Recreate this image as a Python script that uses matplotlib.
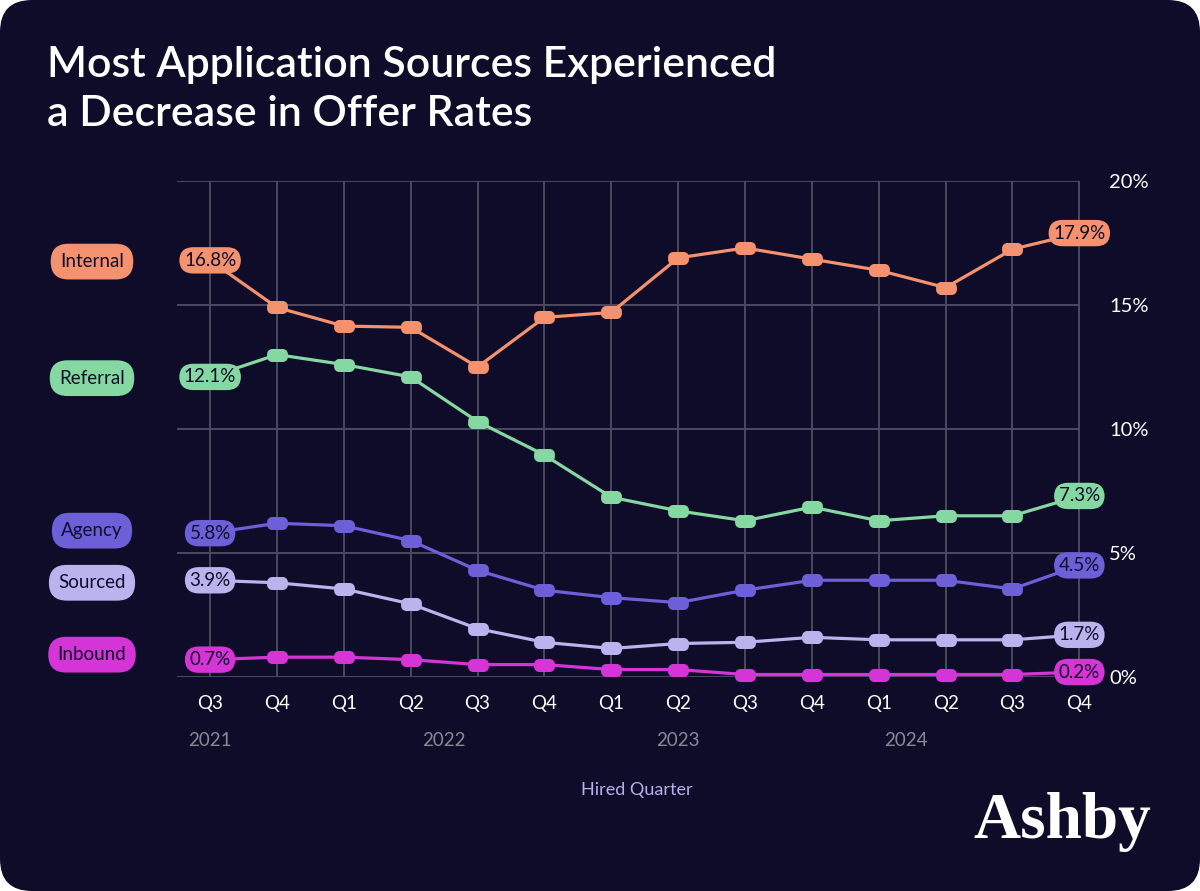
import numpy as np
import matplotlib
matplotlib.use("Agg")
import matplotlib.pyplot as plt
from matplotlib.path import Path
from matplotlib.patches import FancyBboxPatch
import matplotlib.transforms as mtransforms

# data (offer rate, %)
quarters = ["Q3", "Q4", "Q1", "Q2", "Q3", "Q4", "Q1", "Q2", "Q3", "Q4", "Q1", "Q2", "Q3", "Q4"]
years = ["2021", "2022", "2023", "2024"]
year_pos = [0, 3.5, 7, 10.4]

internal = [16.8, 14.9, 14.15, 14.1, 12.5, 14.5, 14.7, 16.9, 17.3, 16.85, 16.4, 15.7, 17.25, 17.9]
referral = [12.1, 13.0, 12.6, 12.1, 10.3, 8.95, 7.25, 6.7, 6.3, 6.85, 6.3, 6.5, 6.5, 7.3]
agency = [5.8, 6.2, 6.1, 5.5, 4.3, 3.5, 3.2, 3.0, 3.5, 3.9, 3.9, 3.9, 3.55, 4.5]
sourced = [3.9, 3.8, 3.55, 2.95, 1.95, 1.4, 1.15, 1.35, 1.4, 1.6, 1.5, 1.5, 1.5, 1.7]
inbound = [0.7, 0.8, 0.8, 0.7, 0.5, 0.5, 0.3, 0.3, 0.1, 0.1, 0.1, 0.1, 0.1, 0.2]

series_names = ["Internal", "Referral", "Agency", "Sourced", "Inbound"]
series_vals = [internal, referral, agency, sourced, inbound]
colors = ["#f4916e", "#86d8a3", "#6c5fd8", "#bab4ee", "#d535d6"]
legend_y = [16.75, 12.05, 5.9, 3.8, 0.9]   # where the name pills sit on the left

bg = "#0e0c28"
grid_c = "#4a4960"
plt.rcParams['font.family'] = ['Lato', 'DejaVu Sans']


def rounded_rect(w, h, r, n=8):
    # closed rounded-rectangle path for the pill markers
    pts = []
    corners = [(w/2 - r, h/2 - r, 0), (-w/2 + r, h/2 - r, 90),
               (-w/2 + r, -h/2 + r, 180), (w/2 - r, -h/2 + r, 270)]
    for cx, cy, a0 in corners:
        for t in np.linspace(np.radians(a0), np.radians(a0 + 90), n):
            pts.append((cx + r*np.cos(t), cy + r*np.sin(t)))
    pts.append(pts[0])
    return Path(pts, closed=True)


pill = rounded_rect(1.6, 1.0, 0.4)

fig = plt.figure(figsize=(12, 8.91), dpi=100, facecolor="white")
card = FancyBboxPatch((0, 0), 12, 8.91, boxstyle="round,pad=0,rounding_size=0.32",
                      transform=fig.dpi_scale_trans, facecolor=bg, edgecolor="none", zorder=-10)
fig.patches.append(card)

ax = fig.add_axes([177/1200, 1 - 677/891, 903/1200, 496/891])
ax.set_facecolor("none")
x = np.arange(len(quarters))
ax.set_xlim(-0.495, 13.01)
ax.set_ylim(0, 20)

for s in ax.spines.values():
    s.set_visible(False)
for yv in [0, 5, 10, 15, 20]:
    ax.axhline(yv, color=grid_c, lw=1.4, zorder=0)
for xv in x:
    ax.axvline(xv, color=grid_c, lw=1.4, zorder=0)

ax.yaxis.tick_right()
ax.set_yticks([0, 5, 10, 15, 20])
ax.set_yticklabels(["0%", "5%", "10%", "15%", "20%"])
ax.tick_params(axis="y", length=0, pad=21, labelsize=14.5, labelcolor="white")
ax.set_xticks(x)
ax.set_xticklabels(quarters)
ax.tick_params(axis="x", length=0, pad=13, labelsize=13.5, labelcolor="white")
for lab in ax.get_yticklabels():
    lab.set_horizontalalignment("left")

for name, vals, c, ly in zip(series_names, series_vals, colors, legend_y):
    ax.plot(x, vals, color=c, lw=2.3, marker=pill, markersize=15, markeredgewidth=0,
            zorder=3, clip_on=False)
    for i in (0, len(vals) - 1):
        ax.text(x[i], vals[i], f"{vals[i]:.1f}%", ha="center", va="center", fontsize=13.5,
                color=bg, zorder=5,
                bbox=dict(boxstyle="round,pad=0.25,rounding_size=0.75", fc=c, ec="none"))
    fig.text(92/1200, 0, name, ha="center", va="center", fontsize=13.5, color=bg,
             transform=mtransforms.blended_transform_factory(fig.transFigure, ax.transData),
             bbox=dict(boxstyle="round,pad=0.5,rounding_size=0.95", fc=c, ec="none"))
    fig.texts[-1].set_y(ly)

yr_tr = mtransforms.blended_transform_factory(ax.transData, fig.transFigure)
for yr, xp in zip(years, year_pos):
    ax.text(xp, 1 - 740/891, yr, transform=yr_tr, ha="center", va="center",
            fontsize=13.5, color="#8a8797")

fig.text(637/1200, 1 - 790/891, "Hired Quarter", ha="center", va="center",
         fontsize=13, color="#b6b0ee")

fig.text(47/1200, 1 - 65/891, "Most Application Sources Experienced", ha="left", va="center",
         fontsize=30.8, color="white", weight="semibold")
fig.text(47/1200, 1 - 114/891, "a Decrease in Offer Rates", ha="left", va="center",
         fontsize=30.8, color="white", weight="semibold")

fig.text(1062/1200, 1 - 822/891, "Ashby", ha="center", va="center", fontsize=47,
         color="white", weight="bold", family="Liberation Serif")

fig.savefig("out.png", dpi=100, facecolor="white")
